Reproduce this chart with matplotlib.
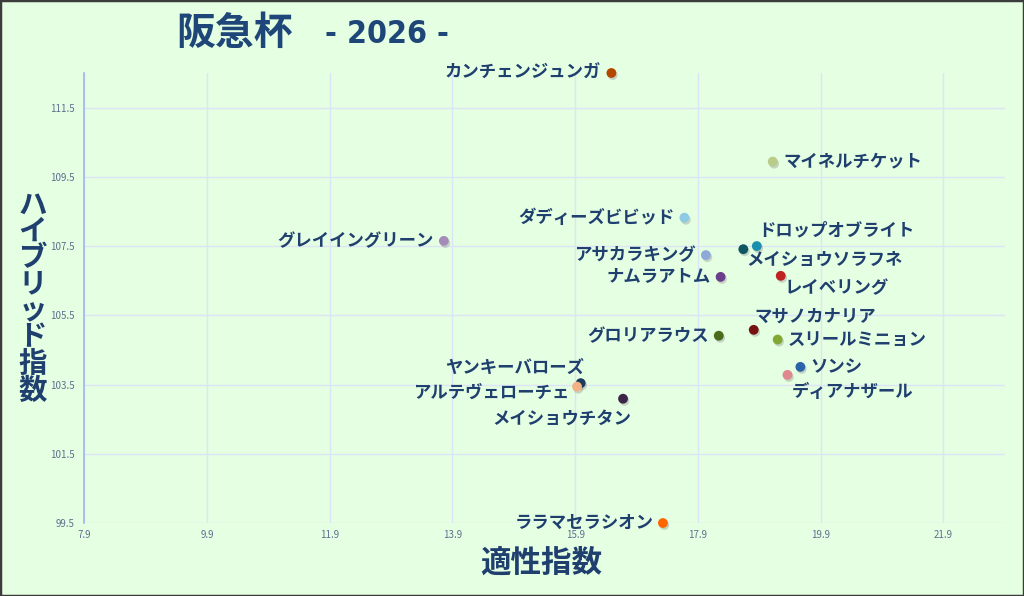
import matplotlib
matplotlib.use("Agg")
import matplotlib.pyplot as plt
from matplotlib.patches import Rectangle
import matplotlib.patheffects as pe

plt.rcParams['font.family'] = ['Noto Sans CJK JP', 'DejaVu Sans']

# data
horses = ["カンチェンジュンガ", "マイネルチケット", "ダディーズビビッド", "ドロップオブライト",
          "メイショウソラフネ", "アサカラキング", "ナムラアトム", "レイベリング",
          "グレイイングリーン", "マサノカナリア", "グロリアラウス", "スリールミニョン",
          "ソンシ", "ディアナザール", "ヤンキーバローズ", "アルテヴェローチェ",
          "メイショウチタン", "ララマセラシオン"]
aptitude = [16.49, 19.12, 17.68, 18.86, 18.64, 18.03, 18.27, 19.25,
            13.76, 18.81, 18.24, 19.20, 19.57, 19.36, 15.99, 15.93,
            16.68, 17.33]
hybrid = [112.50, 109.94, 108.32, 107.50, 107.41, 107.24, 106.61, 106.64,
          107.65, 105.08, 104.91, 104.80, 104.01, 103.78, 103.54, 103.44,
          103.09, 99.50]
colors = ["#b34700", "#b9cc8a", "#8ccbe3", "#1c8fae", "#0e5662", "#8ea9d9",
          "#6b3f8c", "#c02222", "#a68bb9", "#781212", "#4b6b1b", "#82a833",
          "#2b62aa", "#e0878f", "#1b3b5c", "#f4b183", "#3b2647", "#ff6600"]
xticks = [7.9, 9.9, 11.9, 13.9, 15.9, 17.9, 19.9, 21.9]
yticks = [99.5, 101.5, 103.5, 105.5, 107.5, 109.5, 111.5]

# label placement: (dx, dy) in pixels, horizontal alignment
place = {
    "カンチェンジュンガ": (-10, 0, "right"),
    "マイネルチケット": (11, 0, "left"),
    "ダディーズビビッド": (-10, 0, "right"),
    "ドロップオブライト": (1, 16, "left"),
    "メイショウソラフネ": (3, -11, "left"),
    "アサカラキング": (-10, 0, "right"),
    "ナムラアトム": (-10, 0, "right"),
    "レイベリング": (4, -12, "left"),
    "グレイイングリーン": (-10, 0, "right"),
    "マサノカナリア": (1, 13, "left"),
    "グロリアラウス": (-10, 0, "right"),
    "スリールミニョン": (10, 0, "left"),
    "ソンシ": (10, 0, "left"),
    "ディアナザール": (4, -17, "left"),
    "ヤンキーバローズ": (3, 15, "right"),
    "アルテヴェローチェ": (-8, -6, "right"),
    "メイショウチタン": (8, -20, "right"),
    "ララマセラシオン": (-9, 0, "right"),
}

bg = "#e5ffe3"
navy = "#1f3f6e"

fig = plt.figure(figsize=(10.24, 5.96), dpi=100, facecolor=bg)
ax = fig.add_axes([84.3 / 1024, 73 / 596, 920.4 / 1024, 450 / 596])
ax.set_facecolor(bg)
ax.set_xlim(7.9, 22.9)
ax.set_ylim(99.5, 112.5)
ax.set_xticks(xticks)
ax.set_yticks(yticks)
ax.set_xticklabels([f"{v:.1f}" for v in xticks])
ax.set_yticklabels([f"{v:.1f}" for v in yticks])
ax.tick_params(length=0, labelsize=7, colors="#5b6f8f", pad=7)
ax.tick_params(axis="x", pad=5)
ax.grid(True, color="#dbe5f6", linewidth=1)
ax.set_axisbelow(True)
for s in ["top", "right", "bottom"]:
    ax.spines[s].set_visible(False)
ax.spines["left"].set_color("#9db6ef")
ax.spines["left"].set_linewidth(1.2)

shadow = [pe.SimplePatchShadow(offset=(1, -1.5), shadow_rgbFace="#777777", alpha=0.3),
          pe.Normal()]
ax.scatter(aptitude, hybrid, s=50, c=colors, edgecolors="none", zorder=3,
           clip_on=False, path_effects=shadow)

for name, x, y in zip(horses, aptitude, hybrid):
    dx, dy, ha = place[name]
    ax.annotate(name, (x, y), xytext=(dx, dy), textcoords="offset pixels",
                ha=ha, va="center", fontsize=12.5, color=navy,
                fontweight="bold", zorder=4, annotation_clip=False)

fig.text(0.172, 0.944, "阪急杯", fontsize=28, fontweight="bold", color="#1f4678",
         va="center", ha="left")
fig.text(0.317, 0.942, "- 2026 -", fontsize=23, fontweight="bold", color="#1f4678",
         va="center", ha="left", family="DejaVu Sans", fontstretch="condensed")

fig.text(0.529, 0.055, "適性指数", fontsize=22, fontweight="bold", color=navy,
         ha="center", va="center")
fig.text(0.032, 0.50, "\n".join("ハイブリッド指数"), fontsize=20.5, fontweight="bold",
         color=navy, ha="center", va="center", linespacing=0.93)

fig.add_artist(Rectangle((0, 0), 1, 1, transform=fig.transFigure, fill=False,
                         edgecolor="#3c3c3c", linewidth=2.5))

fig.savefig("out.png", dpi=100, facecolor=bg)
